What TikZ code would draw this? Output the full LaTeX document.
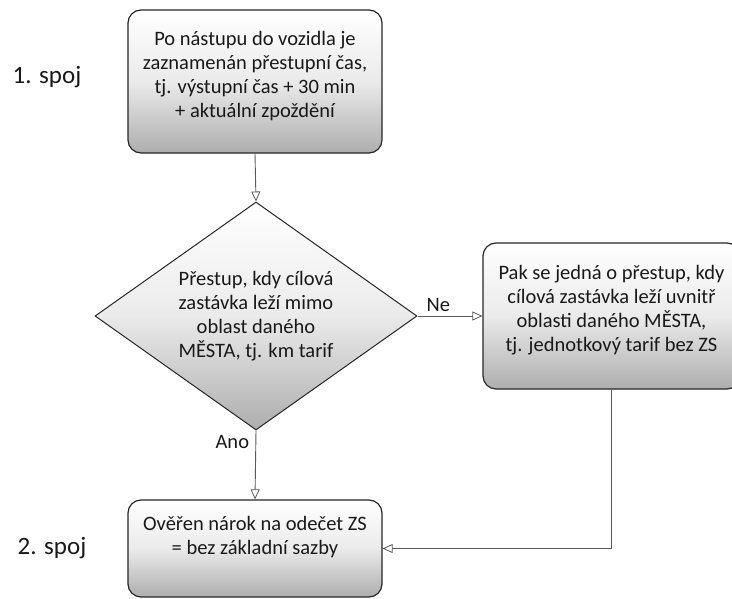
\documentclass[tikz,border=0pt]{standalone}
\usepackage{fontspec}
\setmainfont{Carlito}
\usetikzlibrary{shapes.geometric,arrows.meta}
\begin{document}
\begin{tikzpicture}[x=1bp,y=-1bp,
  every node/.style={font=\fontsize{20.5bp}{24bp}\selectfont, text=black!90},
  box/.style={draw=black!85, line width=1.2bp, rounded corners=13bp, top color=white, bottom color=black!32, middle color=black!8, align=center, inner sep=0pt, text depth=15bp},
  dia/.style={shape=diamond, draw=black!85, line width=1bp, top color=white, bottom color=black!32, middle color=black!8, align=center, inner sep=0pt, aspect=1.4},
  conn/.style={draw=black!65, line width=0.9bp, -{Triangle[open, length=10bp, width=9bp, line width=0.8bp]}},
  lbl/.style={font=\fontsize{25bp}{29bp}\selectfont, text=black!90}
]
\useasboundingbox (0,0) rectangle (732,599);
\node[box, minimum width=254bp, minimum height=143bp] (top) at (255,81.5)
  {Po nástupu do vozidla je\\zaznamenán přestupní čas,\\tj. výstupní čas + 30 min\\+ aktuální zpoždění};
\node[dia, minimum width=322bp, minimum height=228bp] (dec) at (256,316)
  {Přestup, kdy cílová\\zastávka leží mimo\\oblast daného\\MĚSTA, tj. km tarif};
\node[box, minimum width=257bp, minimum height=146bp] (rgt) at (611.5,316)
  {Pak se jedná o přestup, kdy\\cílová zastávka leží uvnitř\\oblasti daného MĚSTA,\\tj. jednotkový tarif bez ZS};
\node[box, text depth=26bp, minimum width=254bp, minimum height=97bp] (bot) at (255,548.5)
  {Ověřen nárok na odečet ZS\\= bez základní sazby};
\node[lbl] (s1) at (47,77) {1. spoj};
\node[lbl] (s2) at (52,548) {2. spoj};
\draw[conn] (top.south) -- (dec.north);
\draw[conn] (dec.east) -- node[pos=0.32, above=1bp] (ne) {Ne} (rgt.west);
\draw[conn] (dec.south) -- node[pos=0.17, left=3bp] (ano) {Ano} (bot.north);
\draw[conn] (rgt.south) |- (bot.east);
\end{tikzpicture}
\end{document}
